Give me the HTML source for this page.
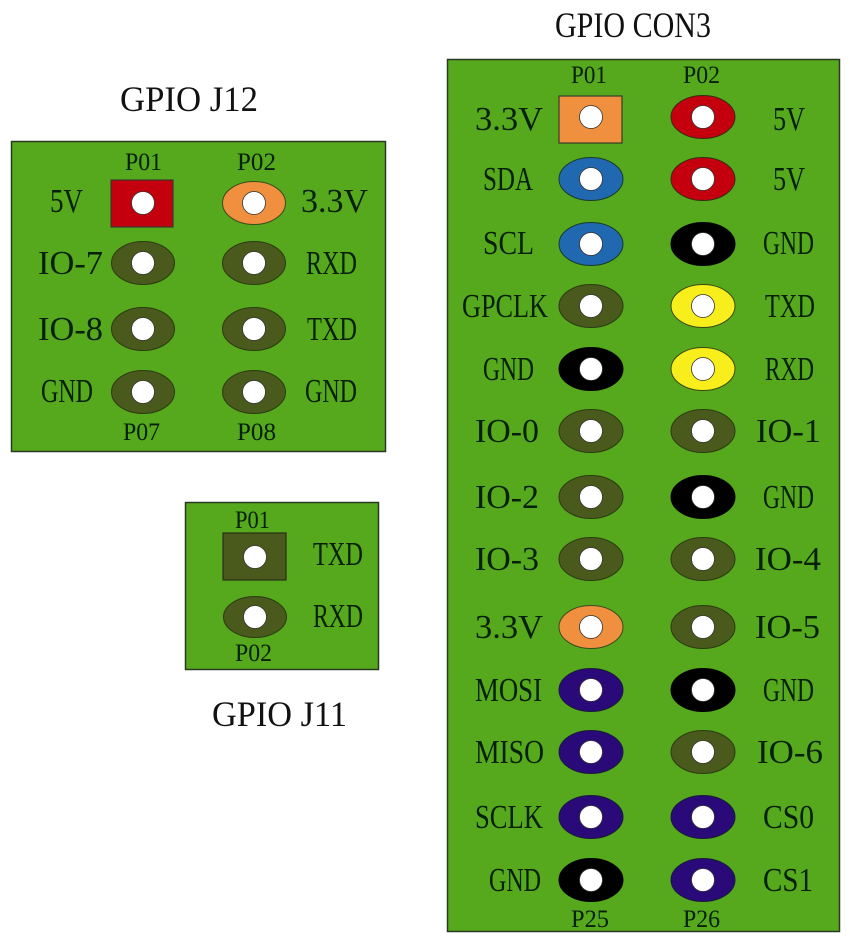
<!DOCTYPE html>
<html><head><meta charset="utf-8"><style>
html,body{margin:0;padding:0;background:#fff;}
svg{display:block;}
text{font-family:"Liberation Serif",serif;}
.lb{font-size:34px;fill:#05200a;}
.pl{font-size:25px;fill:#05200a;}
.tt{font-size:36px;fill:#111;}
</style></head><body>
<svg width="850" height="944" viewBox="0 0 850 944" xmlns="http://www.w3.org/2000/svg">
<defs>
<g id="h"><circle r="11.5" fill="#fff" stroke="#333" stroke-width="0.8"/></g>
</defs>

<!-- GPIO J12 -->
<text class="tt" x="120" y="111" textLength="138" lengthAdjust="spacingAndGlyphs">GPIO J12</text>
<rect x="11.5" y="141.5" width="374" height="310" fill="#56a81c" stroke="#2a3a22" stroke-width="1.5"/>
<text class="pl" x="125" y="170" textLength="37" lengthAdjust="spacingAndGlyphs">P01</text>
<text class="pl" x="237" y="170" textLength="39" lengthAdjust="spacingAndGlyphs">P02</text>
<text class="pl" x="123" y="440" textLength="37" lengthAdjust="spacingAndGlyphs">P07</text>
<text class="pl" x="237" y="440" textLength="39" lengthAdjust="spacingAndGlyphs">P08</text>

<rect x="111" y="180" width="62" height="47" fill="#c4000f" stroke="#3a3a2a" stroke-width="1.2"/>
<use href="#h" x="143" y="203"/>
<ellipse cx="254" cy="203" rx="31.5" ry="21.5" fill="#f0903e" stroke="#3a4a20" stroke-width="1"/>
<use href="#h" x="254" y="203"/>
<ellipse cx="143" cy="263" rx="31.5" ry="21.5" fill="#4a5a1c" stroke="#2a3a12" stroke-width="1"/>
<use href="#h" x="143" y="263"/>
<ellipse cx="254" cy="263" rx="31.5" ry="21.5" fill="#4a5a1c" stroke="#2a3a12" stroke-width="1"/>
<use href="#h" x="254" y="263"/>
<ellipse cx="143" cy="329" rx="31.5" ry="21.5" fill="#4a5a1c" stroke="#2a3a12" stroke-width="1"/>
<use href="#h" x="143" y="329"/>
<ellipse cx="254" cy="329" rx="31.5" ry="21.5" fill="#4a5a1c" stroke="#2a3a12" stroke-width="1"/>
<use href="#h" x="254" y="329"/>
<ellipse cx="143" cy="392" rx="31.5" ry="21.5" fill="#4a5a1c" stroke="#2a3a12" stroke-width="1"/>
<use href="#h" x="143" y="392"/>
<ellipse cx="254" cy="392" rx="31.5" ry="21.5" fill="#4a5a1c" stroke="#2a3a12" stroke-width="1"/>
<use href="#h" x="254" y="392"/>

<text class="lb" x="50" y="212" textLength="33" lengthAdjust="spacingAndGlyphs">5V</text>
<text class="lb" x="38" y="274" textLength="65" lengthAdjust="spacingAndGlyphs">IO-7</text>
<text class="lb" x="38" y="340" textLength="65" lengthAdjust="spacingAndGlyphs">IO-8</text>
<text class="lb" x="41" y="402" textLength="52" lengthAdjust="spacingAndGlyphs">GND</text>
<text class="lb" x="301" y="212" textLength="67" lengthAdjust="spacingAndGlyphs">3.3V</text>
<text class="lb" x="306" y="274" textLength="51" lengthAdjust="spacingAndGlyphs">RXD</text>
<text class="lb" x="307" y="340" textLength="50" lengthAdjust="spacingAndGlyphs">TXD</text>
<text class="lb" x="305" y="402" textLength="52" lengthAdjust="spacingAndGlyphs">GND</text>

<!-- GPIO J11 -->
<rect x="185.5" y="502.5" width="193" height="167" fill="#56a81c" stroke="#2a3a22" stroke-width="1.5"/>
<text class="pl" x="235" y="528" textLength="35" lengthAdjust="spacingAndGlyphs">P01</text>
<text class="pl" x="235" y="661" textLength="37" lengthAdjust="spacingAndGlyphs">P02</text>
<rect x="223" y="533" width="63" height="47" fill="#4a5a1c" stroke="#2a3016" stroke-width="1.2"/>
<use href="#h" x="255" y="557"/>
<ellipse cx="255" cy="617" rx="31.5" ry="20.5" fill="#4a5a1c" stroke="#2a3a12" stroke-width="1"/>
<use href="#h" x="255" y="617"/>
<text class="lb" x="313" y="565" textLength="50" lengthAdjust="spacingAndGlyphs">TXD</text>
<text class="lb" x="313" y="627" textLength="50" lengthAdjust="spacingAndGlyphs">RXD</text>
<text class="tt" x="212" y="726" textLength="135" lengthAdjust="spacingAndGlyphs">GPIO J11</text>

<!-- GPIO CON3 -->
<text class="tt" x="555" y="37" textLength="156" lengthAdjust="spacingAndGlyphs">GPIO CON3</text>
<rect x="447.5" y="59.5" width="392" height="872" fill="#56a81c" stroke="#2a3a22" stroke-width="1.5"/>
<text class="pl" x="571" y="83" textLength="36" lengthAdjust="spacingAndGlyphs">P01</text>
<text class="pl" x="683" y="83" textLength="37" lengthAdjust="spacingAndGlyphs">P02</text>
<text class="pl" x="571" y="927" textLength="38" lengthAdjust="spacingAndGlyphs">P25</text>
<text class="pl" x="683" y="927" textLength="37" lengthAdjust="spacingAndGlyphs">P26</text>

<!-- row 1 -->
<rect x="559" y="96" width="63" height="47" fill="#f0903e" stroke="#3a3a2a" stroke-width="1.2"/>
<use href="#h" x="591" y="117"/>
<ellipse cx="703" cy="117" rx="32" ry="21.5" fill="#c4000f" stroke="#3a2a12" stroke-width="1"/>
<use href="#h" x="703" y="117"/>
<!-- row 2 -->
<ellipse cx="591" cy="179" rx="32" ry="21.5" fill="#2068b0" stroke="#1a3a2a" stroke-width="1"/>
<use href="#h" x="591" y="179"/>
<ellipse cx="703" cy="179" rx="32" ry="21.5" fill="#c4000f" stroke="#3a2a12" stroke-width="1"/>
<use href="#h" x="703" y="179"/>
<!-- row 3 -->
<ellipse cx="591" cy="244" rx="32" ry="21.5" fill="#2068b0" stroke="#1a3a2a" stroke-width="1"/>
<use href="#h" x="591" y="244"/>
<ellipse cx="703" cy="244" rx="32" ry="21.5" fill="#000" stroke="#000" stroke-width="1"/>
<use href="#h" x="703" y="244"/>
<!-- row 4 -->
<ellipse cx="591" cy="306" rx="32" ry="21.5" fill="#4a5a1c" stroke="#2a3a12" stroke-width="1"/>
<use href="#h" x="591" y="306"/>
<ellipse cx="703" cy="306" rx="32" ry="21.5" fill="#f8ee1c" stroke="#3a4a12" stroke-width="1"/>
<use href="#h" x="703" y="306"/>
<!-- row 5 -->
<ellipse cx="591" cy="369" rx="32" ry="21.5" fill="#000" stroke="#000" stroke-width="1"/>
<use href="#h" x="591" y="369"/>
<ellipse cx="703" cy="369" rx="32" ry="21.5" fill="#f8ee1c" stroke="#3a4a12" stroke-width="1"/>
<use href="#h" x="703" y="369"/>
<!-- row 6 -->
<ellipse cx="591" cy="431" rx="32" ry="21.5" fill="#4a5a1c" stroke="#2a3a12" stroke-width="1"/>
<use href="#h" x="591" y="431"/>
<ellipse cx="703" cy="431" rx="32" ry="21.5" fill="#4a5a1c" stroke="#2a3a12" stroke-width="1"/>
<use href="#h" x="703" y="431"/>
<!-- row 7 -->
<ellipse cx="591" cy="497" rx="32" ry="21.5" fill="#4a5a1c" stroke="#2a3a12" stroke-width="1"/>
<use href="#h" x="591" y="497"/>
<ellipse cx="703" cy="497" rx="32" ry="21.5" fill="#000" stroke="#000" stroke-width="1"/>
<use href="#h" x="703" y="497"/>
<!-- row 8 -->
<ellipse cx="591" cy="559" rx="32" ry="21.5" fill="#4a5a1c" stroke="#2a3a12" stroke-width="1"/>
<use href="#h" x="591" y="559"/>
<ellipse cx="703" cy="559" rx="32" ry="21.5" fill="#4a5a1c" stroke="#2a3a12" stroke-width="1"/>
<use href="#h" x="703" y="559"/>
<!-- row 9 -->
<ellipse cx="591" cy="627" rx="32" ry="21.5" fill="#f0903e" stroke="#3a4a20" stroke-width="1"/>
<use href="#h" x="591" y="627"/>
<ellipse cx="703" cy="627" rx="32" ry="21.5" fill="#4a5a1c" stroke="#2a3a12" stroke-width="1"/>
<use href="#h" x="703" y="627"/>
<!-- row 10 -->
<ellipse cx="591" cy="690" rx="32" ry="21.5" fill="#2a0a78" stroke="#1a1a3a" stroke-width="1"/>
<use href="#h" x="591" y="690"/>
<ellipse cx="703" cy="690" rx="32" ry="21.5" fill="#000" stroke="#000" stroke-width="1"/>
<use href="#h" x="703" y="690"/>
<!-- row 11 -->
<ellipse cx="591" cy="752" rx="32" ry="21.5" fill="#2a0a78" stroke="#1a1a3a" stroke-width="1"/>
<use href="#h" x="591" y="752"/>
<ellipse cx="703" cy="752" rx="32" ry="21.5" fill="#4a5a1c" stroke="#2a3a12" stroke-width="1"/>
<use href="#h" x="703" y="752"/>
<!-- row 12 -->
<ellipse cx="591" cy="817" rx="32" ry="21.5" fill="#2a0a78" stroke="#1a1a3a" stroke-width="1"/>
<use href="#h" x="591" y="817"/>
<ellipse cx="703" cy="817" rx="32" ry="21.5" fill="#2a0a78" stroke="#1a1a3a" stroke-width="1"/>
<use href="#h" x="703" y="817"/>
<!-- row 13 -->
<ellipse cx="591" cy="880" rx="32" ry="21.5" fill="#000" stroke="#000" stroke-width="1"/>
<use href="#h" x="591" y="880"/>
<ellipse cx="703" cy="880" rx="32" ry="21.5" fill="#2a0a78" stroke="#1a1a3a" stroke-width="1"/>
<use href="#h" x="703" y="880"/>

<!-- left labels -->
<text class="lb" x="475" y="130" textLength="68" lengthAdjust="spacingAndGlyphs">3.3V</text>
<text class="lb" x="483" y="190" textLength="50" lengthAdjust="spacingAndGlyphs">SDA</text>
<text class="lb" x="483" y="254" textLength="51" lengthAdjust="spacingAndGlyphs">SCL</text>
<text class="lb" x="462" y="317" textLength="86" lengthAdjust="spacingAndGlyphs">GPCLK</text>
<text class="lb" x="483" y="380" textLength="51" lengthAdjust="spacingAndGlyphs">GND</text>
<text class="lb" x="475" y="442" textLength="64" lengthAdjust="spacingAndGlyphs">IO-0</text>
<text class="lb" x="475" y="508" textLength="64" lengthAdjust="spacingAndGlyphs">IO-2</text>
<text class="lb" x="475" y="570" textLength="64" lengthAdjust="spacingAndGlyphs">IO-3</text>
<text class="lb" x="475" y="638" textLength="68" lengthAdjust="spacingAndGlyphs">3.3V</text>
<text class="lb" x="475" y="701" textLength="67" lengthAdjust="spacingAndGlyphs">MOSI</text>
<text class="lb" x="475" y="763" textLength="69" lengthAdjust="spacingAndGlyphs">MISO</text>
<text class="lb" x="475" y="828" textLength="68" lengthAdjust="spacingAndGlyphs">SCLK</text>
<text class="lb" x="489" y="891" textLength="52" lengthAdjust="spacingAndGlyphs">GND</text>

<!-- right labels -->
<text class="lb" x="773" y="130" textLength="32" lengthAdjust="spacingAndGlyphs">5V</text>
<text class="lb" x="773" y="190" textLength="32" lengthAdjust="spacingAndGlyphs">5V</text>
<text class="lb" x="763" y="254" textLength="51" lengthAdjust="spacingAndGlyphs">GND</text>
<text class="lb" x="765" y="317" textLength="50" lengthAdjust="spacingAndGlyphs">TXD</text>
<text class="lb" x="765" y="380" textLength="49" lengthAdjust="spacingAndGlyphs">RXD</text>
<text class="lb" x="756" y="442" textLength="65" lengthAdjust="spacingAndGlyphs">IO-1</text>
<text class="lb" x="763" y="508" textLength="51" lengthAdjust="spacingAndGlyphs">GND</text>
<text class="lb" x="755" y="570" textLength="66" lengthAdjust="spacingAndGlyphs">IO-4</text>
<text class="lb" x="755" y="638" textLength="65" lengthAdjust="spacingAndGlyphs">IO-5</text>
<text class="lb" x="763" y="701" textLength="51" lengthAdjust="spacingAndGlyphs">GND</text>
<text class="lb" x="757" y="763" textLength="66" lengthAdjust="spacingAndGlyphs">IO-6</text>
<text class="lb" x="763" y="828" textLength="51" lengthAdjust="spacingAndGlyphs">CS0</text>
<text class="lb" x="763" y="891" textLength="50" lengthAdjust="spacingAndGlyphs">CS1</text>
</svg>
</body></html>
